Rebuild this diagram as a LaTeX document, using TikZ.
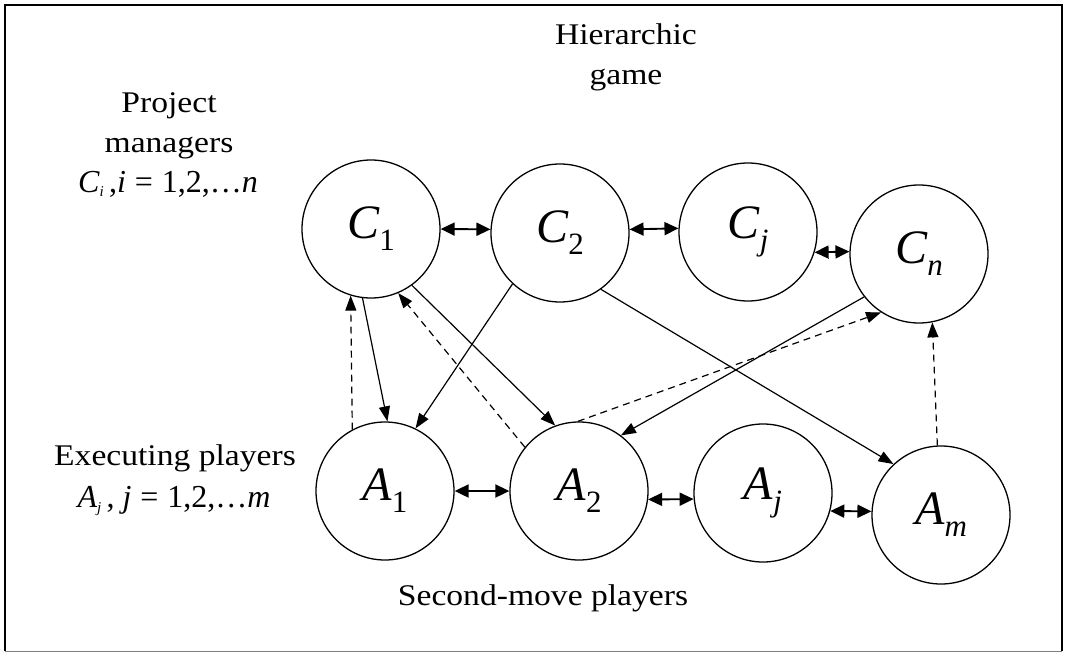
\documentclass[tikz,border=0pt]{standalone}
\usepackage{fontspec}
\setmainfont{Liberation Serif}[FakeStretch=1.12]
\newfontfamily\mfont{Liberation Serif}
\usetikzlibrary{arrows.meta}
\newcommand\nlab[2]{{\mfont\fontsize{48}{48}\selectfont\textit{#1}\raisebox{-12pt}{\fontsize{31}{31}\selectfont #2}}}
\begin{document}
\begin{tikzpicture}[x=1pt,y=-1pt,
  player/.style={circle,draw,line width=1.3pt,minimum size=138pt,inner sep=0pt},
  txt/.style={anchor=base,inner sep=0pt,font=\fontsize{30}{40}\selectfont},
  frm/.style={inner sep=0pt,anchor=base,font=\mfont\fontsize{32}{32}\selectfont},
  arr/.style={line width=1.2pt,-{Triangle[length=15pt,width=11pt]}},
  dsh/.style={arr,dash pattern=on 7pt off 5pt},
  dbl/.style={line width=1.9pt,{Triangle[length=14pt,width=13pt]}-{Triangle[length=14pt,width=13pt]}}]
\useasboundingbox (0,0) rectangle (1067,653);
\coordinate (f1) at (5,651);
\coordinate (f2) at (5,5);
\coordinate (f3) at (1062,5);
\coordinate (f4) at (1062,651);
\draw[line width=2.2pt] (f1) -- (f2) -- (f3) -- (f4);
\draw[line width=1pt,gray] (f1) -- (f4);

\node[txt] (h1) at (626,44) {Hierarchic};
\node[txt] (h2) at (626,84) {game};
\node[txt] (p1) at (169,112) {Project};
\node[txt] (p2) at (169,152) {managers};
\node[frm] (p3) at (168,192) {\textit{C}\raisebox{-4pt}{\fontsize{15}{15}\selectfont\textit{i}}\,,\textit{i}\;=\;1,2,\ldots\textit{n}};
\node[txt] (e1) at (175,465) {Executing players};
\node[frm] (e2) at (174,507) {\textit{A}\raisebox{-5pt}{\fontsize{15}{15}\selectfont\textit{j}}\,, \textit{j}\;=\;1,2,\ldots\textit{m}};
\node[txt] (s1) at (543,605) {Second-move players};

\node[player] (C1) at (371,229) {\nlab{C}{1}};
\node[player] (C2) at (560,233) {\nlab{C}{2}};
\node[player] (Cj) at (748,232) {\nlab{C}{\textit{j}}};
\node[player] (Cn) at (919,254) {\nlab{C}{\textit{n}}};
\node[player] (A1) at (385,491) {\nlab{A}{1}};
\node[player] (A2) at (579,491) {\nlab{A}{2}};
\node[player] (Aj) at (763,493) {\nlab{A}{\textit{j}}};
\node[player] (Am) at (941,515) {\nlab{A}{\textit{m}}};

\draw[dbl] (C1.east) -- (C2.177);
\draw[dbl] (C2.3) -- (Cj.177);
\draw[dbl] (Cj.-17) -- (Cn.178);
\draw[dbl] (A1.east) -- (A2.west);
\draw[dbl] (A2.-7) -- (Aj.185);
\draw[dbl] (Aj.-15) -- (Am.177);

\draw[arr] (C1.-97) -- (A1.88);
\draw[arr] (C2.-133) -- (A1.64);
\draw[arr] (C1.-54) -- (A2.110);
\draw[arr] (C2.-54) -- (Am.133);
\draw[arr] (Cn.-142) -- (A2.53);
\draw[dsh] (A1.118) -- (C1.-107);
\draw[dsh] (A2.141) -- (C1.-67);
\draw[dsh] (A2.91) -- (Cn.-123);
\draw[dsh] (Am.93) -- (Cn.-79);
\end{tikzpicture}
\end{document}
